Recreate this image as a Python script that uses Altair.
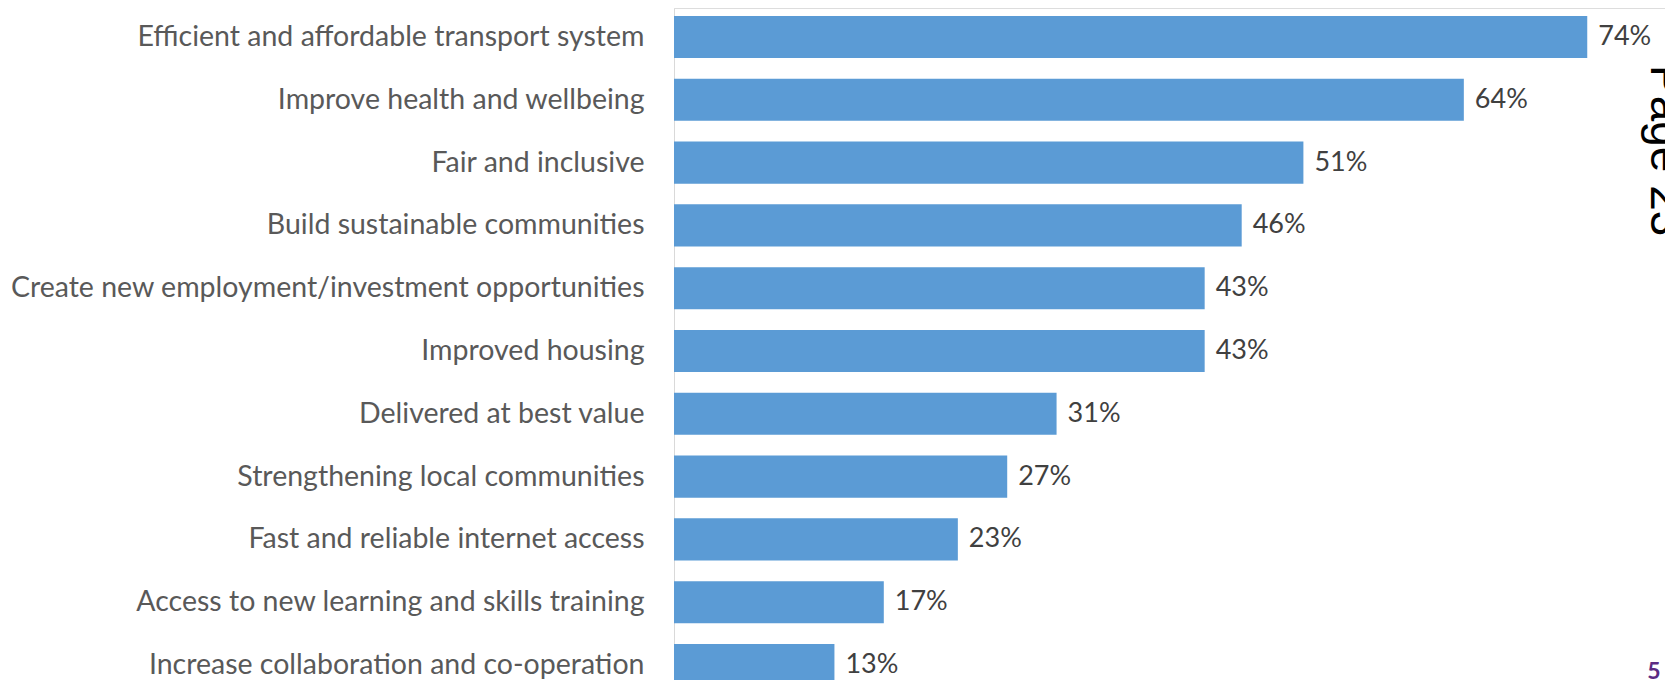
import altair as alt
import pandas as pd

categories = [
    "Efficient and affordable transport system",
    "Improve health and wellbeing",
    "Fair and inclusive",
    "Build sustainable communities",
    "Create new employment/investment opportunities",
    "Improved housing",
    "Delivered at best value",
    "Strengthening local communities",
    "Fast and reliable internet access",
    "Access to new learning and skills training",
    "Increase collaboration and co-operation",
]
values = [74, 64, 51, 46, 43, 43, 31, 27, 23, 17, 13]
labels = [f"{v}%" for v in values]

df = pd.DataFrame({"cat": categories, "val": values, "lab": labels})

FONT = "Lato"
W = 991
H = 672

y_enc = alt.Y(
    "cat:N",
    sort=categories,
    scale=alt.Scale(range=[0, 686], paddingInner=0.33, paddingOuter=0.127),
    axis=alt.Axis(
        title=None,
        ticks=False,
        domainColor="#d9d9d9",
        domainWidth=1,
        labelPadding=30,
        labelFont=FONT,
        labelFontSize=28.5,
        labelColor="#595959",
        labelLimit=0,
        grid=False,
    ),
)
x_enc = alt.X("val:Q", scale=alt.Scale(domain=[0, 80.3]), axis=None)

bars = alt.Chart(df).mark_bar(color="#5B9BD5").encode(x=x_enc, y=y_enc)
text = alt.Chart(df).mark_text(
    align="left", baseline="middle", dx=11, font=FONT, fontSize=27, color="#404040"
).encode(x=x_enc, y=y_enc, text="lab:N")

page = alt.Chart(pd.DataFrame({"t": ["Page 23"]})).mark_text(
    angle=90, align="left", baseline="alphabetic", font="Liberation Sans",
    fontSize=46, color="#000000"
).encode(text="t:N", x=alt.value(977), y=alt.value(57))

num = alt.Chart(pd.DataFrame({"t": ["5"]})).mark_text(
    align="center", baseline="alphabetic", font=FONT, fontSize=23,
    fontWeight="bold", color="#5B2C83"
).encode(text="t:N", x=alt.value(980), y=alt.value(671))

chart = alt.layer(bars, text, page, num).properties(
    width=W, height=H,
    autosize=alt.AutoSizeParams(type="none"),
    padding={"left": 666, "top": 0, "right": 0, "bottom": 0},
).configure_view(stroke=None).configure(background="white")

chart.save("out.html", embed_options={"renderer": "svg", "actions": False})
